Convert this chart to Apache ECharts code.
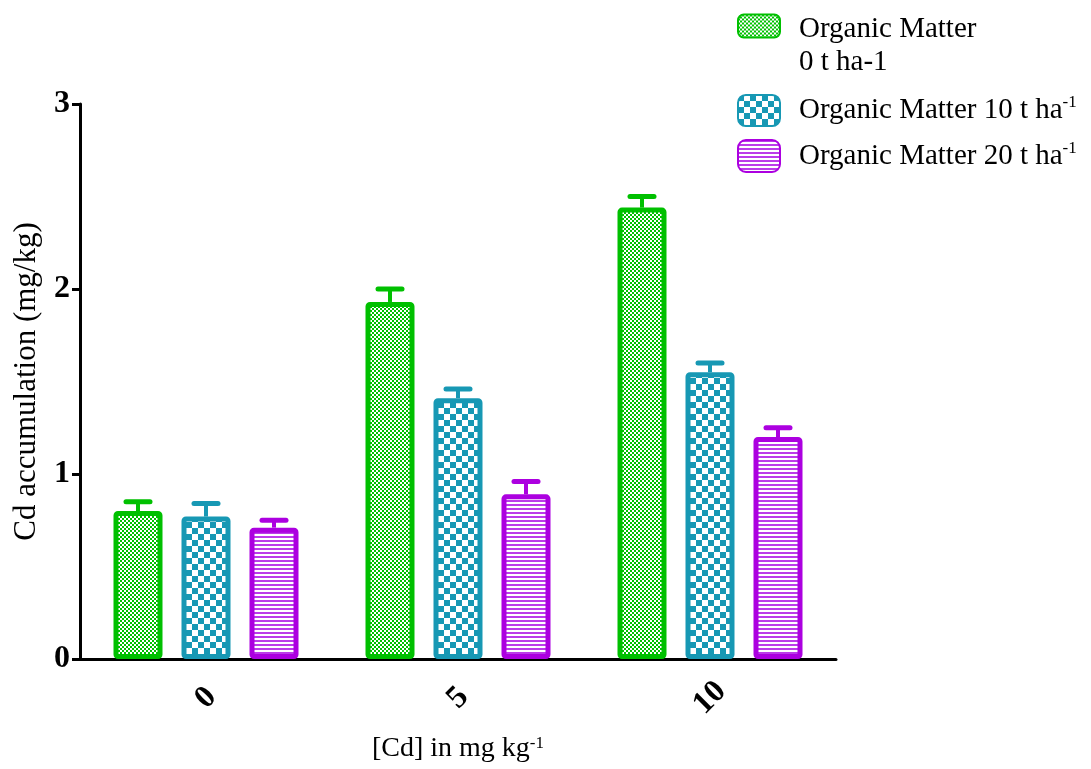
<!DOCTYPE html>
<html>
<head>
<meta charset="utf-8">
<title>Cd accumulation</title>
<script src="https://cdn.jsdelivr.net/npm/echarts@6/dist/echarts.min.js"></script>
<style>
  html, body { margin: 0; padding: 0; background: #fff; }
  #chart { width: 1091px; height: 769px; }
</style>
</head>
<body>
<div id="chart"></div>
<script>
// x categories: [Cd] in soil (mg/kg)
const categories = ['0', '5', '10'];
// mean Cd accumulation per organic matter dose
const om0 = [0.80, 1.93, 2.44];
const om10 = [0.77, 1.41, 1.55];
const om20 = [0.71, 0.89, 1.20];
// error bar (upper) size
const om0Err = [0.05, 0.07, 0.06];
const om10Err = [0.07, 0.05, 0.05];
const om20Err = [0.04, 0.07, 0.05];
const seriesNames = ['Organic Matter\n0 t ha-1', 'Organic Matter 10 t ha-1', 'Organic Matter 20 t ha-1'];

const FONT = 'Liberation Serif';
const GREEN = '#00c000';
const TEAL = '#1798b4';
const PURPLE = '#ac00e0';

// fill patterns
function makePattern(size, draw) {
  const c = document.createElement('canvas');
  c.width = size[0];
  c.height = size[1];
  const ctx = c.getContext('2d');
  ctx.fillStyle = '#fff';
  ctx.fillRect(0, 0, size[0], size[1]);
  draw(ctx);
  return { image: c, repeat: 'repeat' };
}
const greenFill = makePattern([4, 4], ctx => {
  ctx.fillStyle = GREEN;
  ctx.fillRect(0, 0, 2, 2);
  ctx.fillRect(2, 2, 2, 2);
});
const tealFill = makePattern([12, 12], ctx => {
  ctx.fillStyle = TEAL;
  ctx.fillRect(0, 0, 6, 6);
  ctx.fillRect(6, 6, 6, 6);
});
const purpleFill = makePattern([4, 4], ctx => {
  ctx.fillStyle = '#bc3cea';
  ctx.fillRect(0, 0, 4, 2);
});

const BAR_W = 49;
const BAR_STEP = 68; // centre to centre distance of bars in a group

function barSeries(name, data, fill, color) {
  return {
    name: name,
    type: 'bar',
    data: data,
    barWidth: BAR_W,
    barGap: ((BAR_STEP - BAR_W) / BAR_W * 100) + '%',
    itemStyle: {
      color: fill,
      borderColor: color,
      borderWidth: 5,
      borderRadius: 2
    },
    z: 2
  };
}

function errSeries(means, errs, idx, color) {
  return {
    type: 'custom',
    data: means.map((m, i) => [i, m, errs[i]]),
    encode: { x: 0, y: 1 },
    z: 3,
    renderItem(params, api) {
      const i = api.value(0);
      const m = api.value(1);
      const e = api.value(2);
      const p0 = api.coord([i, m]);
      const p1 = api.coord([i, m + e]);
      const x = p0[0] + (idx - 1) * BAR_STEP;
      return {
        type: 'group',
        children: [
          {
            type: 'line',
            shape: { x1: x, y1: p0[1], x2: x, y2: p1[1] },
            style: { stroke: color, lineWidth: 4 }
          },
          {
            type: 'line',
            shape: { x1: x - 12, y1: p1[1], x2: x + 12, y2: p1[1] },
            style: { stroke: color, lineWidth: 5, lineCap: 'round' }
          }
        ]
      };
    }
  };
}

const supRich = {
  sup: { fontFamily: FONT, fontSize: 17, verticalAlign: 'top', color: '#000' }
};

function legendItem(name, top, h, extra) {
  return Object.assign({
    orient: 'vertical',
    left: 737,
    top: top,
    padding: 0,
    itemWidth: 42,
    itemHeight: h,
    data: [name],
    selectedMode: false,
    formatter: n => n.replace(/ha-1$/, 'ha{sup|-1}'),
    textStyle: {
      fontFamily: FONT,
      fontSize: 29,
      color: '#000',
      lineHeight: 32,
      padding: [0, 0, 0, 14],
      rich: supRich
    }
  }, extra || {});
}

const chart = echarts.init(document.getElementById('chart'));
chart.setOption({
  animation: false,
  grid: { left: 80, right: 255, top: 104, bottom: 110 },
  legend: [
    // first entry breaks over two lines, icon sits on the first one:
    // a blank leading line keeps the block centred near "Organic Matter"
    legendItem(seriesNames[0], -12, 23, {
      formatter: n => '{g| }\n' + n.split('\n').map(s => '{t|' + s + '}').join('\n'),
      textStyle: {
        fontFamily: FONT, fontSize: 29, color: '#000',
        padding: [0, 0, 0, 14],
        rich: {
          g: { fontSize: 10, lineHeight: 39 },
          t: { fontFamily: FONT, fontSize: 29, color: '#000', lineHeight: 33 }
        }
      }
    }),
    legendItem(seriesNames[1], 94, 31),
    legendItem(seriesNames[2], 139, 32)
  ],
  xAxis: {
    type: 'category',
    data: categories,
    name: '[Cd] in mg kg{sup|-1}',
    nameLocation: 'middle',
    nameGap: 76,
    nameTextStyle: { fontFamily: FONT, fontSize: 28, color: '#000', rich: supRich },
    axisLine: { lineStyle: { color: '#000', width: 3 } },
    axisTick: { alignWithLabel: true, length: 10, lineStyle: { color: '#000', width: 3 } },
    axisLabel: {
      rotate: 45,
      align: 'center',
      verticalAlign: 'middle',
      margin: 39,
      fontFamily: FONT,
      fontWeight: 'bold',
      fontSize: 32,
      color: '#000'
    }
  },
  yAxis: {
    type: 'value',
    min: 0,
    max: 3,
    interval: 1,
    name: 'Cd accumulation (mg/kg)',
    nameLocation: 'middle',
    nameGap: 38,
    nameTextStyle: { fontFamily: FONT, fontSize: 31, color: '#000' },
    axisLine: { show: true, lineStyle: { color: '#000', width: 3 } },
    axisTick: { show: true, length: 8, lineStyle: { color: '#000', width: 3 } },
    splitLine: { show: false },
    axisLabel: {
      margin: 10,
      fontFamily: FONT,
      fontWeight: 'bold',
      fontSize: 32,
      color: '#000'
    }
  },
  series: [
    barSeries(seriesNames[0], om0, greenFill, GREEN),
    barSeries(seriesNames[1], om10, tealFill, TEAL),
    barSeries(seriesNames[2], om20, purpleFill, PURPLE),
    errSeries(om0, om0Err, 0, GREEN),
    errSeries(om10, om10Err, 1, TEAL),
    errSeries(om20, om20Err, 2, PURPLE)
  ]
});
</script>
</body>
</html>
